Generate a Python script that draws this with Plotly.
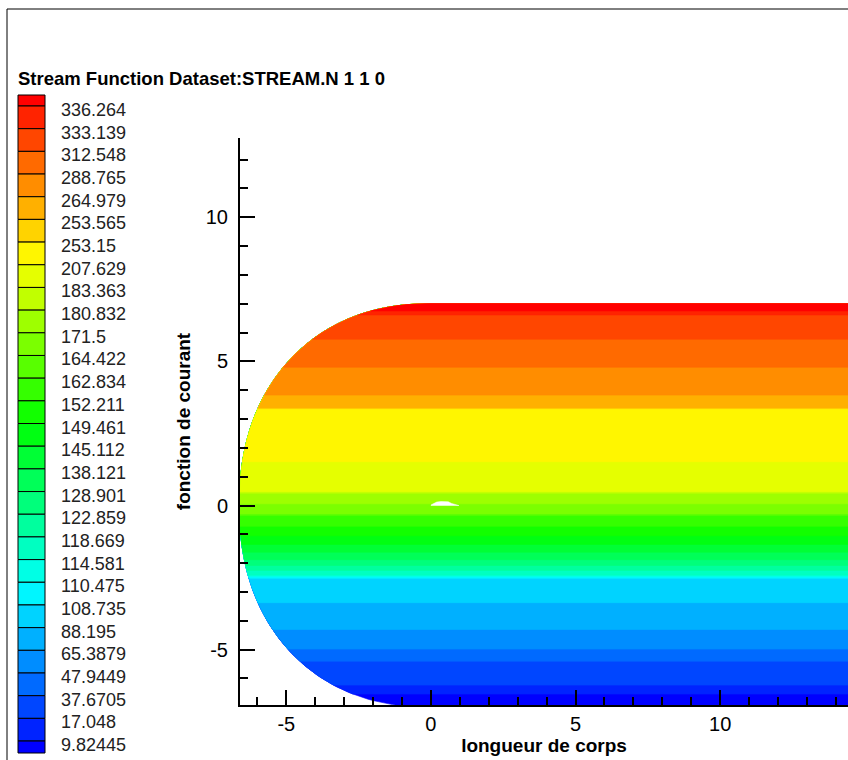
import colorsys
import numpy as np
import plotly.graph_objects as go

# ---------------- data ----------------
legend_title = "Stream Function Dataset:STREAM.N 1 1 0"
psi_levels = [336.264, 333.139, 312.548, 288.765, 264.979, 253.565, 253.15,
              207.629, 183.363, 180.832, 171.5, 164.422, 162.834, 152.211,
              149.461, 145.112, 138.121, 128.901, 122.859, 118.669, 114.581,
              110.475, 108.735, 88.195, 65.3879, 47.9449, 37.6705, 17.048,
              9.82445]
psi_labels = ["336.264", "333.139", "312.548", "288.765", "264.979", "253.565",
              "253.15", "207.629", "183.363", "180.832", "171.5", "164.422",
              "162.834", "152.211", "149.461", "145.112", "138.121", "128.901",
              "122.859", "118.669", "114.581", "110.475", "108.735", "88.195",
              "65.3879", "47.9449", "37.6705", "17.048", "9.82445"]
# y position (fonction de courant axis) of each contour level
level_y = [6.75, 6.61, 5.77, 4.80, 3.83, 3.38, 3.36, 1.52, 0.48, 0.43, 0.06,
           -0.29, -0.35, -0.72, -1.05, -1.35, -1.62, -1.88, -2.08, -2.25,
           -2.42, -2.47, -2.52, -3.37, -4.30, -4.98, -5.40, -6.23, -6.54]
# small body (white) outline
body_x = [0.0, 0.2, 0.35, 0.6, 0.72, 0.97, 0.97, 0.0]
body_y = [0.02, 0.12, 0.14, 0.13, 0.07, 0.02, 0.0, 0.0]
x_tick_vals = [-5, 0, 5, 10]
x_tick_text = ["-5", "0", "5", "10"]
y_tick_vals = [-5, 0, 5, 10]
y_tick_text = ["-5", "0", "5", "10"]
x_title = "longueur de corps"
y_title = "fonction de courant"

# ---------------- geometry / style ----------------
W, H = 848, 760
PL, PR, PT, PB = 240, 0, 138, 55
PW, PH = W - PL - PR, H - PT - PB
X_RANGE = [-6.6, 14.42]
Y_RANGE = [-6.92, 12.75]
Y_EDGE = 7.0      # half height of the flow domain
NOSE = 6.62       # reach of the rounded inflow boundary
EXPO = 2.2
X_END = 16.0
FONT = "Arial, Liberation Sans, sans-serif"

n_bands = len(psi_levels) + 1


def band_color(i):
    r, g, b = colorsys.hsv_to_rgb((240.0 * i / (n_bands - 1)) / 360.0, 1, 1)
    return "rgb(%d,%d,%d)" % (round(r * 255), round(g * 255), round(b * 255))


def x_left(y):
    t = np.clip(np.abs(y) / Y_EDGE, 0, 1)
    return -NOSE * (1 - t ** EXPO) ** (1 / EXPO)


def px_x(px):
    return (px - PL) / PW


def px_y(py):
    return (H - PB - py) / PH


fig = go.Figure()

# bands: drawn from bottom to top, each covering from its lower level to the top
lower_bounds = [-Y_EDGE] + level_y[::-1]
for k, ylo in enumerate(lower_bounds):
    band_index = n_bands - 1 - k
    ys = np.linspace(ylo, Y_EDGE, 300)
    xs = x_left(ys)
    px = np.concatenate([xs, [X_END, X_END, xs[0]]])
    py = np.concatenate([ys, [Y_EDGE, ylo, ylo]])
    col = band_color(band_index)
    fig.add_trace(go.Scatter(x=px, y=py, mode="lines", fill="toself",
                             fillcolor=col, line=dict(width=0.6, color=col),
                             hoverinfo="skip", showlegend=False))

fig.add_trace(go.Scatter(x=body_x, y=body_y, mode="lines", fill="toself",
                         fillcolor="white", line=dict(width=0.5, color="white"),
                         hoverinfo="skip", showlegend=False))

shapes = []
# outer frame (left and top)
shapes.append(dict(type="line", xref="paper", yref="paper",
                   x0=px_x(7), x1=px_x(W + 20), y0=px_y(9), y1=px_y(9),
                   line=dict(color="black", width=1)))
shapes.append(dict(type="line", xref="paper", yref="paper",
                   x0=px_x(7), x1=px_x(7), y0=px_y(9), y1=px_y(H + 20),
                   line=dict(color="black", width=1)))

# legend boxes
LEG_X0, LEG_X1 = 18, 45
LINE0, STEP = 106, 22.68
for i in range(n_bands):
    top = 95 if i == 0 else LINE0 + STEP * (i - 1)
    bot = 753 if i == n_bands - 1 else LINE0 + STEP * i
    shapes.append(dict(type="rect", xref="paper", yref="paper",
                       x0=px_x(LEG_X0), x1=px_x(LEG_X1),
                       y0=px_y(bot), y1=px_y(top),
                       fillcolor=band_color(i),
                       line=dict(color="black", width=1)))

annotations = []
for k, lab in enumerate(psi_labels):
    annotations.append(dict(xref="paper", yref="paper", x=px_x(59),
                            y=px_y(LINE0 + STEP * k + 4), text=lab,
                            showarrow=False, xanchor="left", yanchor="middle",
                            font=dict(family=FONT, size=18, color="#222")))
annotations.append(dict(xref="paper", yref="paper", x=px_x(16), y=px_y(78),
                        text=legend_title, showarrow=False, xanchor="left",
                        yanchor="middle",
                        font=dict(family=FONT, size=18.5, color="black",
                                  weight="bold")))

axis_common = dict(showgrid=False, zeroline=False, showline=True,
                   linecolor="black", linewidth=2, ticks="inside",
                   ticklen=15, tickwidth=2, tickcolor="black",
                   tickfont=dict(family=FONT, size=20, color="black"),
                   tickmode="array",
                   minor=dict(ticks="inside", ticklen=8, tickwidth=2,
                              tickcolor="black", dtick=1, tick0=0,
                              showgrid=False))

fig.update_layout(
    width=W, height=H,
    margin=dict(l=PL, r=PR, t=PT, b=PB, pad=0),
    paper_bgcolor="white", plot_bgcolor="white",
    showlegend=False,
    xaxis=dict(range=X_RANGE, tickvals=x_tick_vals, ticktext=x_tick_text,
               title=dict(text=x_title, standoff=3,
                          font=dict(family=FONT, size=19, color="black",
                                    weight="bold")),
               **axis_common),
    yaxis=dict(range=Y_RANGE, tickvals=y_tick_vals, ticktext=y_tick_text,
               ticklabelstandoff=6,
               title=dict(text=y_title, standoff=10,
                          font=dict(family=FONT, size=19, color="black",
                                    weight="bold")),
               **axis_common),
    shapes=shapes,
    annotations=annotations,
)

fig.write_html(
    "out.html",
    config={"displayModeBar": False},
    post_script="document.body.style.margin='0';"
                "document.body.style.overflow='hidden';",
)
